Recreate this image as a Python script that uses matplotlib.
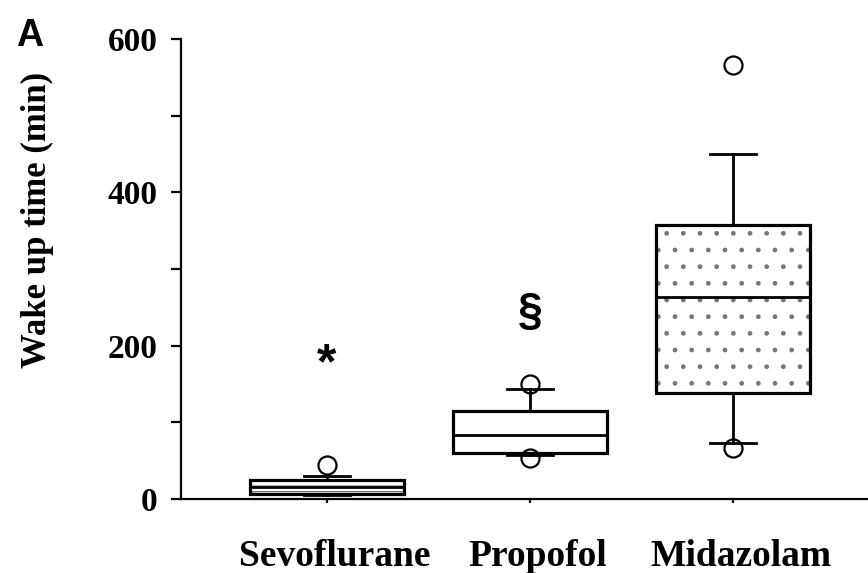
import numpy as np
import matplotlib.pyplot as plt
from matplotlib.patches import PathPatch
from matplotlib.ticker import MultipleLocator
import matplotlib.transforms as mtransforms

groups = ['Sevoflurane', 'Propofol', 'Midazolam']
q1 = [7, 60, 138]
medians = [16, 83, 263]
q3 = [25, 115, 358]
whis_lo = [5, 58, 73]
whis_hi = [30, 143, 450]
outliers = [[45], [150, 53], [566, 67]]
hatches = ['---', None, '.']
marks = ['*', '§', None]
mark_y = [175, 243, None]

plt.rcParams['hatch.linewidth'] = 1.0
serif = ['Liberation Serif', 'DejaVu Serif']
sans = ['Liberation Sans', 'DejaVu Sans']

stats = []
for i, g in enumerate(groups):
    stats.append(dict(label=g, q1=q1[i], med=medians[i], q3=q3[i],
                      whislo=whis_lo[i], whishi=whis_hi[i], fliers=outliers[i]))

fig = plt.figure(figsize=(8.68, 5.73), dpi=100)
ax = fig.add_axes([0.2085, 0.129, 0.7915, 0.803])

pos = np.arange(1, len(groups) + 1)
bp = ax.bxp(stats, positions=pos, widths=0.76, capwidths=0.23, patch_artist=True,
            boxprops=dict(facecolor='white', edgecolor='black', linewidth=2.3),
            medianprops=dict(color='black', linewidth=2.0),
            whiskerprops=dict(color='black', linewidth=2.0),
            capprops=dict(color='black', linewidth=2.0),
            flierprops=dict(marker='o', markersize=13, markerfacecolor='none',
                            markeredgecolor='black', markeredgewidth=1.6))

# fill patterns sit under the black outline
for box, h in zip(bp['boxes'], hatches):
    if h is None:
        continue
    hp = PathPatch(box.get_path(), facecolor='white', edgecolor='#777777',
                   hatch=h, linewidth=0, zorder=box.get_zorder() + 0.1)
    ax.add_patch(hp)
    box.set_facecolor('none')
    box.set_zorder(box.get_zorder() + 0.2)
for line in bp['medians']:
    line.set_zorder(3)

for x, m, y in zip(pos, marks, mark_y):
    if m is None:
        continue
    ax.text(x, y, m, ha='center', va='center', fontsize=32 if m == '§' else 36,
            fontweight='bold', family=sans)

ax.set_xlim(0.281, 3.665)
ax.set_ylim(0, 600)
ax.yaxis.set_major_locator(MultipleLocator(200))
ax.yaxis.set_minor_locator(MultipleLocator(100))
ax.spines['top'].set_visible(False)
ax.spines['right'].set_visible(False)
ax.spines['left'].set_linewidth(1.6)
ax.spines['bottom'].set_linewidth(1.6)
ax.tick_params(axis='y', which='both', direction='out', length=7, width=1.6)
ax.tick_params(axis='y', which='major', pad=10)
ax.tick_params(axis='x', direction='out', length=3, width=1.6, pad=26)

ax.set_xticks(pos)
ax.set_xticklabels(groups, fontsize=27, fontweight='bold', family=serif)
for lab in ax.get_yticklabels():
    lab.set_fontsize(24)
    lab.set_fontweight('bold')
    lab.set_family(serif)
shift = mtransforms.ScaledTranslation(0.08, 0, fig.dpi_scale_trans)
for lab in ax.get_xticklabels():
    lab.set_transform(lab.get_transform() + shift)

fig.text(37 / 868, 1 - 220 / 573, 'Wake up time (min)', rotation=90,
         ha='center', va='center', fontsize=25, fontweight='bold', family=serif)
fig.text(0.019, 1 - 46 / 573, 'A', fontsize=27, fontweight='bold', family=sans)

plt.savefig('out.png', dpi=100)
